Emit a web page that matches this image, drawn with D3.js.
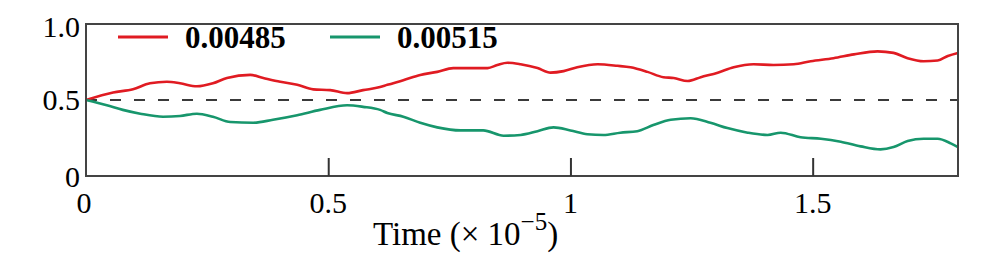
<!DOCTYPE html>
<html>
<head>
<meta charset="utf-8">
<script src="https://cdn.jsdelivr.net/npm/d3@7"></script>
<style>
  body { margin: 0; background: #fff; }
  text { font-family: 'Liberation Serif', 'Times New Roman', serif; fill: #000; }
</style>
</head>
<body>
<div id="chart-div"></div>
<script>
const CHART_WIDTH = 981;
const CHART_HEIGHT = 257;
const MARGIN = { left: 86, right: 23, top: 24, bottom: 81 };

// series (time in units of 1e-5)
const redTime = [0, 0.056, 0.097, 0.132, 0.167, 0.194, 0.229, 0.262, 0.291, 0.339, 0.366, 0.401, 0.436, 0.469, 0.504, 0.539, 0.572, 0.607, 0.622, 0.655, 0.690, 0.725, 0.758, 0.793, 0.829, 0.849, 0.870, 0.897, 0.932, 0.959, 0.986, 1.014, 1.056, 1.097, 1.124, 1.159, 1.192, 1.213, 1.242, 1.269, 1.304, 1.337, 1.378, 1.419, 1.461, 1.496, 1.543, 1.585, 1.634, 1.667, 1.696, 1.729, 1.758, 1.779, 1.80];
const redValues = [0.50, 0.55, 0.57, 0.61, 0.62, 0.61, 0.59, 0.61, 0.645, 0.665, 0.645, 0.62, 0.60, 0.57, 0.565, 0.545, 0.565, 0.585, 0.60, 0.63, 0.665, 0.685, 0.71, 0.71, 0.71, 0.73, 0.745, 0.735, 0.71, 0.68, 0.69, 0.715, 0.735, 0.725, 0.715, 0.685, 0.65, 0.645, 0.625, 0.65, 0.68, 0.715, 0.735, 0.73, 0.735, 0.755, 0.775, 0.80, 0.82, 0.81, 0.775, 0.755, 0.76, 0.79, 0.81];

const greenTime = [0, 0.043, 0.076, 0.112, 0.159, 0.194, 0.229, 0.262, 0.298, 0.345, 0.386, 0.436, 0.483, 0.539, 0.572, 0.607, 0.622, 0.655, 0.690, 0.725, 0.773, 0.820, 0.862, 0.897, 0.932, 0.965, 1.000, 1.035, 1.068, 1.103, 1.138, 1.171, 1.207, 1.248, 1.289, 1.324, 1.366, 1.407, 1.434, 1.475, 1.517, 1.558, 1.599, 1.640, 1.667, 1.696, 1.729, 1.758, 1.785, 1.80];
const greenValues = [0.50, 0.465, 0.435, 0.41, 0.39, 0.395, 0.41, 0.39, 0.355, 0.35, 0.37, 0.40, 0.435, 0.465, 0.455, 0.435, 0.415, 0.39, 0.35, 0.32, 0.30, 0.30, 0.265, 0.27, 0.295, 0.32, 0.30, 0.275, 0.27, 0.285, 0.295, 0.335, 0.37, 0.38, 0.35, 0.315, 0.285, 0.27, 0.285, 0.255, 0.245, 0.225, 0.195, 0.175, 0.19, 0.23, 0.245, 0.245, 0.215, 0.19];

const legendLabels = ['0.00485', '0.00515'];
const xTicks = [0, 0.5, 1, 1.5];
const yTicks = [0, 0.5, 1.0];
const yTickLabels = ['0', '0.5', '1.0'];

const COLORS = ['#e01b22', '#17966c'];

let svg = d3.select('#chart-div')
  .append('svg')
  .attr('width', CHART_WIDTH)
  .attr('height', CHART_HEIGHT);

const xScale = d3.scaleLinear()
  .domain([0, 1.8])
  .range([MARGIN.left, CHART_WIDTH - MARGIN.right]);

const yScale = d3.scaleLinear()
  .domain([0, 1])
  .range([CHART_HEIGHT - MARGIN.bottom, MARGIN.top]);

// reference line at 0.5
svg.append('line')
  .attr('x1', xScale(0))
  .attr('x2', xScale(1.8))
  .attr('y1', yScale(0.5))
  .attr('y2', yScale(0.5))
  .attr('stroke', '#3a3a3a')
  .attr('stroke-width', 2)
  .attr('stroke-dasharray', '11,13');

// curves
const line = d3.line()
  .x(d => xScale(d[0]))
  .y(d => yScale(d[1]))
  .curve(d3.curveMonotoneX);

const series = [
  d3.zip(redTime, redValues),
  d3.zip(greenTime, greenValues)
];

svg.append('g')
  .selectAll('path')
  .data(series)
  .join('path')
  .attr('d', line)
  .attr('fill', 'none')
  .attr('stroke', (d, i) => COLORS[i])
  .attr('stroke-width', 2.6)
  .attr('stroke-linejoin', 'round');

// frame
svg.append('rect')
  .attr('x', xScale(0))
  .attr('y', yScale(1))
  .attr('width', xScale(1.8) - xScale(0))
  .attr('height', yScale(0) - yScale(1))
  .attr('fill', 'none')
  .attr('stroke', '#444')
  .attr('stroke-width', 2);

// x axis: ticks point inward
const xAxis = d3.axisTop(xScale)
  .tickValues(xTicks.filter(t => t > 0))
  .tickSize(18)
  .tickFormat('');

svg.append('g')
  .attr('transform', `translate(0,${yScale(0)})`)
  .call(xAxis)
  .call(g => g.select('.domain').remove())
  .call(g => g.selectAll('line').attr('stroke', '#333').attr('stroke-width', 2));

svg.append('g')
  .selectAll('text')
  .data(xTicks)
  .join('text')
  .attr('x', d => xScale(d) - (d === 0 ? 2 : 0))
  .attr('y', 213)
  .attr('text-anchor', 'middle')
  .attr('font-size', 30)
  .text(d => d3.format('~g')(d));

svg.append('g')
  .selectAll('text')
  .data(yTicks)
  .join('text')
  .attr('x', 80)
  .attr('y', d => yScale(d) + 10 + (d === 1 ? 3 : 0) + (d === 0 ? 1 : 0))
  .attr('text-anchor', 'end')
  .attr('font-size', 30)
  .text((d, i) => yTickLabels[i]);

// x axis title
let title = svg.append('text')
  .attr('x', 373)
  .attr('y', 245)
  .attr('font-size', 33);
title.append('tspan').text('Time (\u00d7 10');
title.append('tspan')
  .attr('dy', -15)
  .attr('font-size', 25)
  .text('\u22125');
title.append('tspan')
  .attr('dy', 15)
  .text(')');

// legend
const legendX = [118, 330];
let legend = svg.append('g')
  .selectAll('g')
  .data(legendLabels)
  .join('g')
  .attr('transform', (d, i) => `translate(${legendX[i]},37)`);

legend.append('line')
  .attr('x1', 0)
  .attr('x2', 50)
  .attr('stroke', (d, i) => COLORS[i])
  .attr('stroke-width', 3);

legend.append('text')
  .attr('x', 67)
  .attr('y', 11)
  .attr('font-size', 31)
  .attr('font-weight', 'bold')
  .text(d => d);
</script>
</body>
</html>
